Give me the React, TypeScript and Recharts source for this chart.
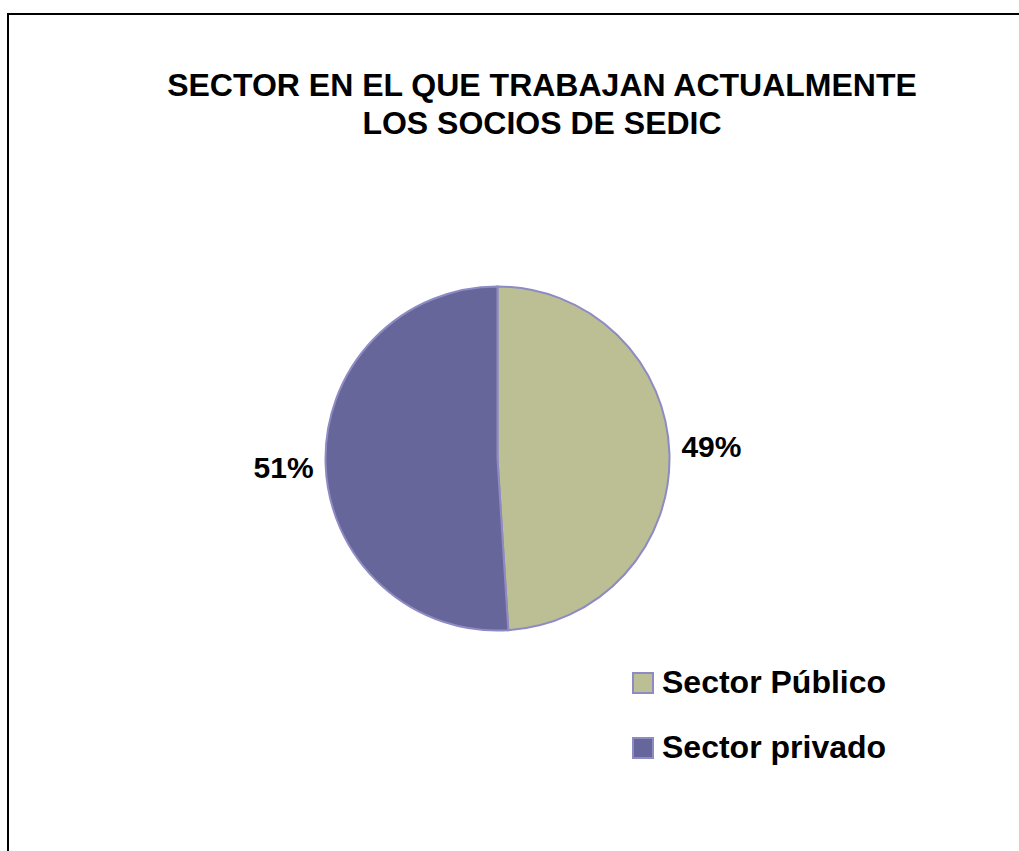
import { PieChart, Pie, Cell, Legend } from "recharts";

const sectors = ["Sector Público", "Sector privado"];
const shares = [49, 51];
const colors = ["#BBBF93", "#67669A"];

const data = sectors.map((name, i) => ({ name, value: shares[i], color: colors[i] }));

const FONT = "'Liberation Sans', Arial, sans-serif";
const EDGE = "#8E8AC4";
const RAD = Math.PI / 180;

const renderLabel = (props: any) => {
  const { cx, cy, outerRadius, midAngle, percent } = props;
  const cos = Math.cos(-midAngle * RAD);
  const sin = Math.sin(-midAngle * RAD);
  const x = cx + (outerRadius + 12) * cos;
  const y = cy + (outerRadius + 12) * sin + (cos >= 0 ? 4 : 14);
  return (
    <text
      x={x}
      y={y}
      textAnchor={cos >= 0 ? "start" : "end"}
      fill="#000"
      fontFamily={FONT}
      fontWeight="bold"
      fontSize={30}
    >
      {`${Math.round(percent * 100)}%`}
    </text>
  );
};

const renderLegend = () => (
  <ul style={{ margin: 0, padding: 0, listStyle: "none" }}>
    {data.map((d) => (
      <li
        key={d.name}
        style={{ display: "flex", alignItems: "center", height: 65 }}
      >
        <span
          style={{
            display: "inline-block",
            width: 18,
            height: 18,
            background: d.color,
            border: `2px solid ${EDGE}`,
            marginRight: 8,
          }}
        />
        <span
          style={{
            fontFamily: FONT,
            fontWeight: "bold",
            fontSize: 32,
            color: "#000",
          }}
        >
          {d.name}
        </span>
      </li>
    ))}
  </ul>
);

export default function App() {
  return (
    <div
      style={{
        position: "fixed",
        left: 0,
        top: 0,
        width: 1019,
        height: 851,
        overflow: "hidden",
        background: "#fff",
      }}
    >
      <div
        style={{
          position: "absolute",
          left: 7,
          top: 13,
          width: 1100,
          height: 900,
          borderTop: "2px solid #000",
          borderLeft: "2px solid #000",
        }}
      />
      <div
        style={{
          position: "absolute",
          left: 42,
          top: 66,
          width: 1000,
          textAlign: "center",
          fontFamily: FONT,
          fontWeight: "bold",
          fontSize: 32,
          lineHeight: "38px",
          color: "#000",
        }}
      >
        SECTOR EN EL QUE TRABAJAN ACTUALMENTE
        <br />
        LOS SOCIOS DE SEDIC
      </div>
      <PieChart
        width={1019}
        height={851}
        margin={{ top: 0, right: 0, bottom: 0, left: 0 }}
        style={{ position: "absolute", left: 0, top: 0 }}
      >
        <Pie
          data={data}
          dataKey="value"
          nameKey="name"
          cx={497.5}
          cy={458.5}
          outerRadius={172}
          startAngle={90}
          endAngle={-270}
          stroke={EDGE}
          strokeWidth={2}
          label={renderLabel}
          labelLine={false}
          isAnimationActive={false}
        >
          {data.map((d, i) => (
            <Cell key={`cell-${i}`} fill={d.color} />
          ))}
        </Pie>
        <Legend
          content={renderLegend}
          wrapperStyle={{ position: "absolute", left: 632, top: 650, width: 360 }}
        />
      </PieChart>
    </div>
  );
}
